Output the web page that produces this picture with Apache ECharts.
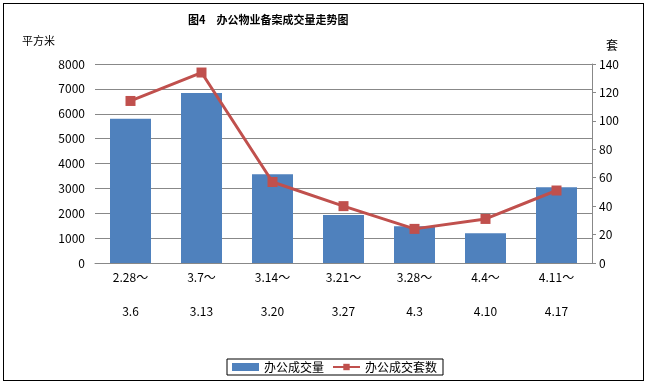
<!DOCTYPE html>
<html><head><meta charset="utf-8">
<script src="https://cdn.jsdelivr.net/npm/echarts@6/dist/echarts.min.js"></script>
<style>
html,body{margin:0;padding:0;background:#fff;}
#frame{position:absolute;left:3px;top:3px;width:641px;height:378px;border:1px solid #000;box-sizing:border-box;}
#c{position:absolute;left:0;top:0;width:649px;height:385px;}
</style></head>
<body>
<div id="frame"></div>
<div id="c"></div>
<script>
const categories = ['2.28～\n3.6','3.7～\n3.13','3.14～\n3.20','3.21～\n3.27','3.28～\n4.3','4.4～\n4.10','4.11～\n4.17'];
const areaValues = [5800, 6830, 3570, 1930, 1480, 1200, 3050];
const unitValues = [114, 134, 57, 40, 24, 31, 51];
const leftTicks = {min: 0, max: 8000, interval: 1000};
const rightTicks = {min: 0, max: 140, interval: 20};

const font = '"Noto Sans CJK SC", "DejaVu Sans", sans-serif';
const chart = echarts.init(document.getElementById('c'), null, {renderer: 'canvas'});
chart.setOption({
  animation: false,
  backgroundColor: 'transparent',
  textStyle: {fontFamily: font},
  title: {
    text: '图4　办公物业备案成交量走势图',
    left: 183, top: 9,
    textStyle: {fontSize: 11, fontWeight: 'bold', color: '#000', fontFamily: font}
  },
  legend: {
    left: 227, top: 359,
    width: 214, height: 20,
    padding: [2, 6, 2, 5],
    borderColor: '#000', borderWidth: 1,
    itemGap: 8,
    itemWidth: 27, itemHeight: 8,
    textStyle: {fontSize: 12, color: '#000', fontFamily: font},
    data: [
      {name: '办公成交量', icon: 'rect'},
      {name: '办公成交套数'}
    ]
  },
  grid: {left: 95, right: 57, top: 64, bottom: 122, containLabel: false},
  xAxis: {
    type: 'category',
    data: categories,
    axisLine: {show: true, lineStyle: {color: '#888', width: 1}},
    axisTick: {show: false},
    axisLabel: {fontSize: 12, color: '#000', lineHeight: 34, margin: -3, interval: 0, fontFamily: font}
  },
  yAxis: [
    {
      type: 'value', name: '平方米',
      min: leftTicks.min, max: leftTicks.max, interval: leftTicks.interval,
      nameLocation: 'end', nameGap: 18,
      nameTextStyle: {fontSize: 11, color: '#000', align: 'right', padding: [0, 40, 0, 0], fontFamily: font},
      axisLine: {show: false},
      axisTick: {show: false},
      axisLabel: {fontSize: 12, color: '#000', margin: 10, fontFamily: font, formatter: v => String(v)},
      splitLine: {show: true, lineStyle: {color: '#888', width: 1}}
    },
    {
      type: 'value', name: '套',
      min: rightTicks.min, max: rightTicks.max, interval: rightTicks.interval,
      nameLocation: 'end', nameGap: 13,
      nameTextStyle: {fontSize: 12, color: '#000', align: 'left', padding: [0, 0, 0, 14], fontFamily: font},
      axisLine: {show: true, lineStyle: {color: '#888', width: 1}},
      axisTick: {show: true, length: 4, inside: false, lineStyle: {color: '#888'}},
      axisLabel: {fontSize: 12, color: '#000', margin: 7, fontFamily: font},
      splitLine: {show: false}
    }
  ],
  series: [
    {
      name: '办公成交量', type: 'bar', yAxisIndex: 0,
      data: areaValues,
      barWidth: 41,
      itemStyle: {color: '#4F81BD'}
    },
    {
      name: '办公成交套数', type: 'line', yAxisIndex: 1,
      data: unitValues,
      symbol: 'rect', symbolSize: 10,
      lineStyle: {color: '#C0504D', width: 3},
      itemStyle: {color: '#C0504D'}
    }
  ]
});
</script>
</body></html>
